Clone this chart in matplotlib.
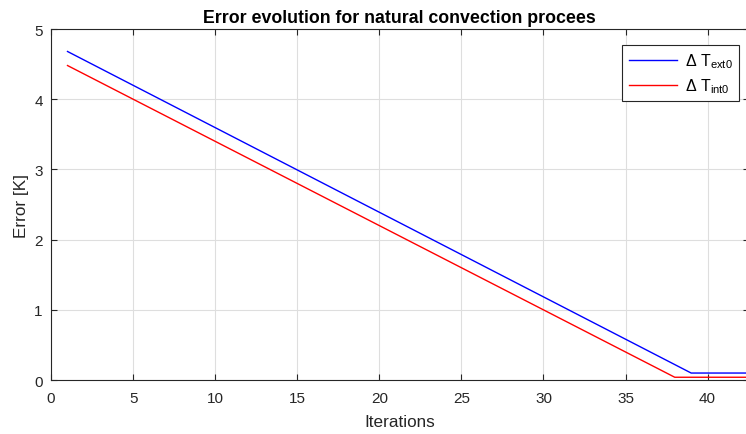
import matplotlib
matplotlib.use('Agg')
import matplotlib.pyplot as plt

plt.rcParams['font.family'] = ['Liberation Sans', 'DejaVu Sans']
plt.rcParams['mathtext.fontset'] = 'custom'
plt.rcParams['mathtext.rm'] = 'Liberation Sans'
plt.rcParams['mathtext.it'] = 'Liberation Sans'

# breakpoints of the two error curves (straight segments between them)
iters_ext = [1, 39, 43]
err_ext   = [4.68, 0.10, 0.10]
iters_int = [1, 38, 43]
err_int   = [4.48, 0.04, 0.04]

XTICKS = [0, 5, 10, 15, 20, 25, 30, 35, 40]
YTICKS = [0, 1, 2, 3, 4, 5]

fig = plt.figure(figsize=(7.46, 4.35), dpi=100)
ax = fig.add_axes([0.0685, 0.124, 0.935, 0.807])

ax.plot(iters_ext, err_ext, color='#0000ff', lw=1.0, label=r'$\Delta$ T$_{\mathrm{ext0}}$')
ax.plot(iters_int, err_int, color='#ff0000', lw=1.0, label=r'$\Delta$ T$_{\mathrm{int0}}$')

ax.set_xlim(0, 42.5)
ax.set_ylim(0, 5)
ax.set_xticks(XTICKS)
ax.set_yticks(YTICKS)
ax.grid(True, color='#dedede', lw=0.8)
ax.set_axisbelow(True)
ax.tick_params(direction='in', length=4, top=True, right=True, labelsize=11,
               colors='#262626', width=0.8)
ax.tick_params(axis='x', pad=8)
ax.tick_params(axis='y', pad=6)
for s in ax.spines.values():
    s.set_color('#262626')
    s.set_linewidth(0.8)

ax.set_xlabel('Iterations', fontsize=12.3, color='#262626', labelpad=6)
ax.set_ylabel('Error [K]', fontsize=12.3, color='#262626', labelpad=4)
ax.set_title('Error evolution for natural convection procees', fontsize=12.8,
             fontweight='bold', pad=5)

leg = ax.legend(loc='upper right', bbox_to_anchor=(0.986, 0.955),
                fontsize=11.5, fancybox=False, framealpha=1,
                edgecolor='#262626', handlelength=3.0, handletextpad=0.5,
                borderaxespad=0.0, borderpad=0.4, labelspacing=0.4)
leg.get_frame().set_linewidth(0.8)

fig.savefig('out.png', dpi=100)
